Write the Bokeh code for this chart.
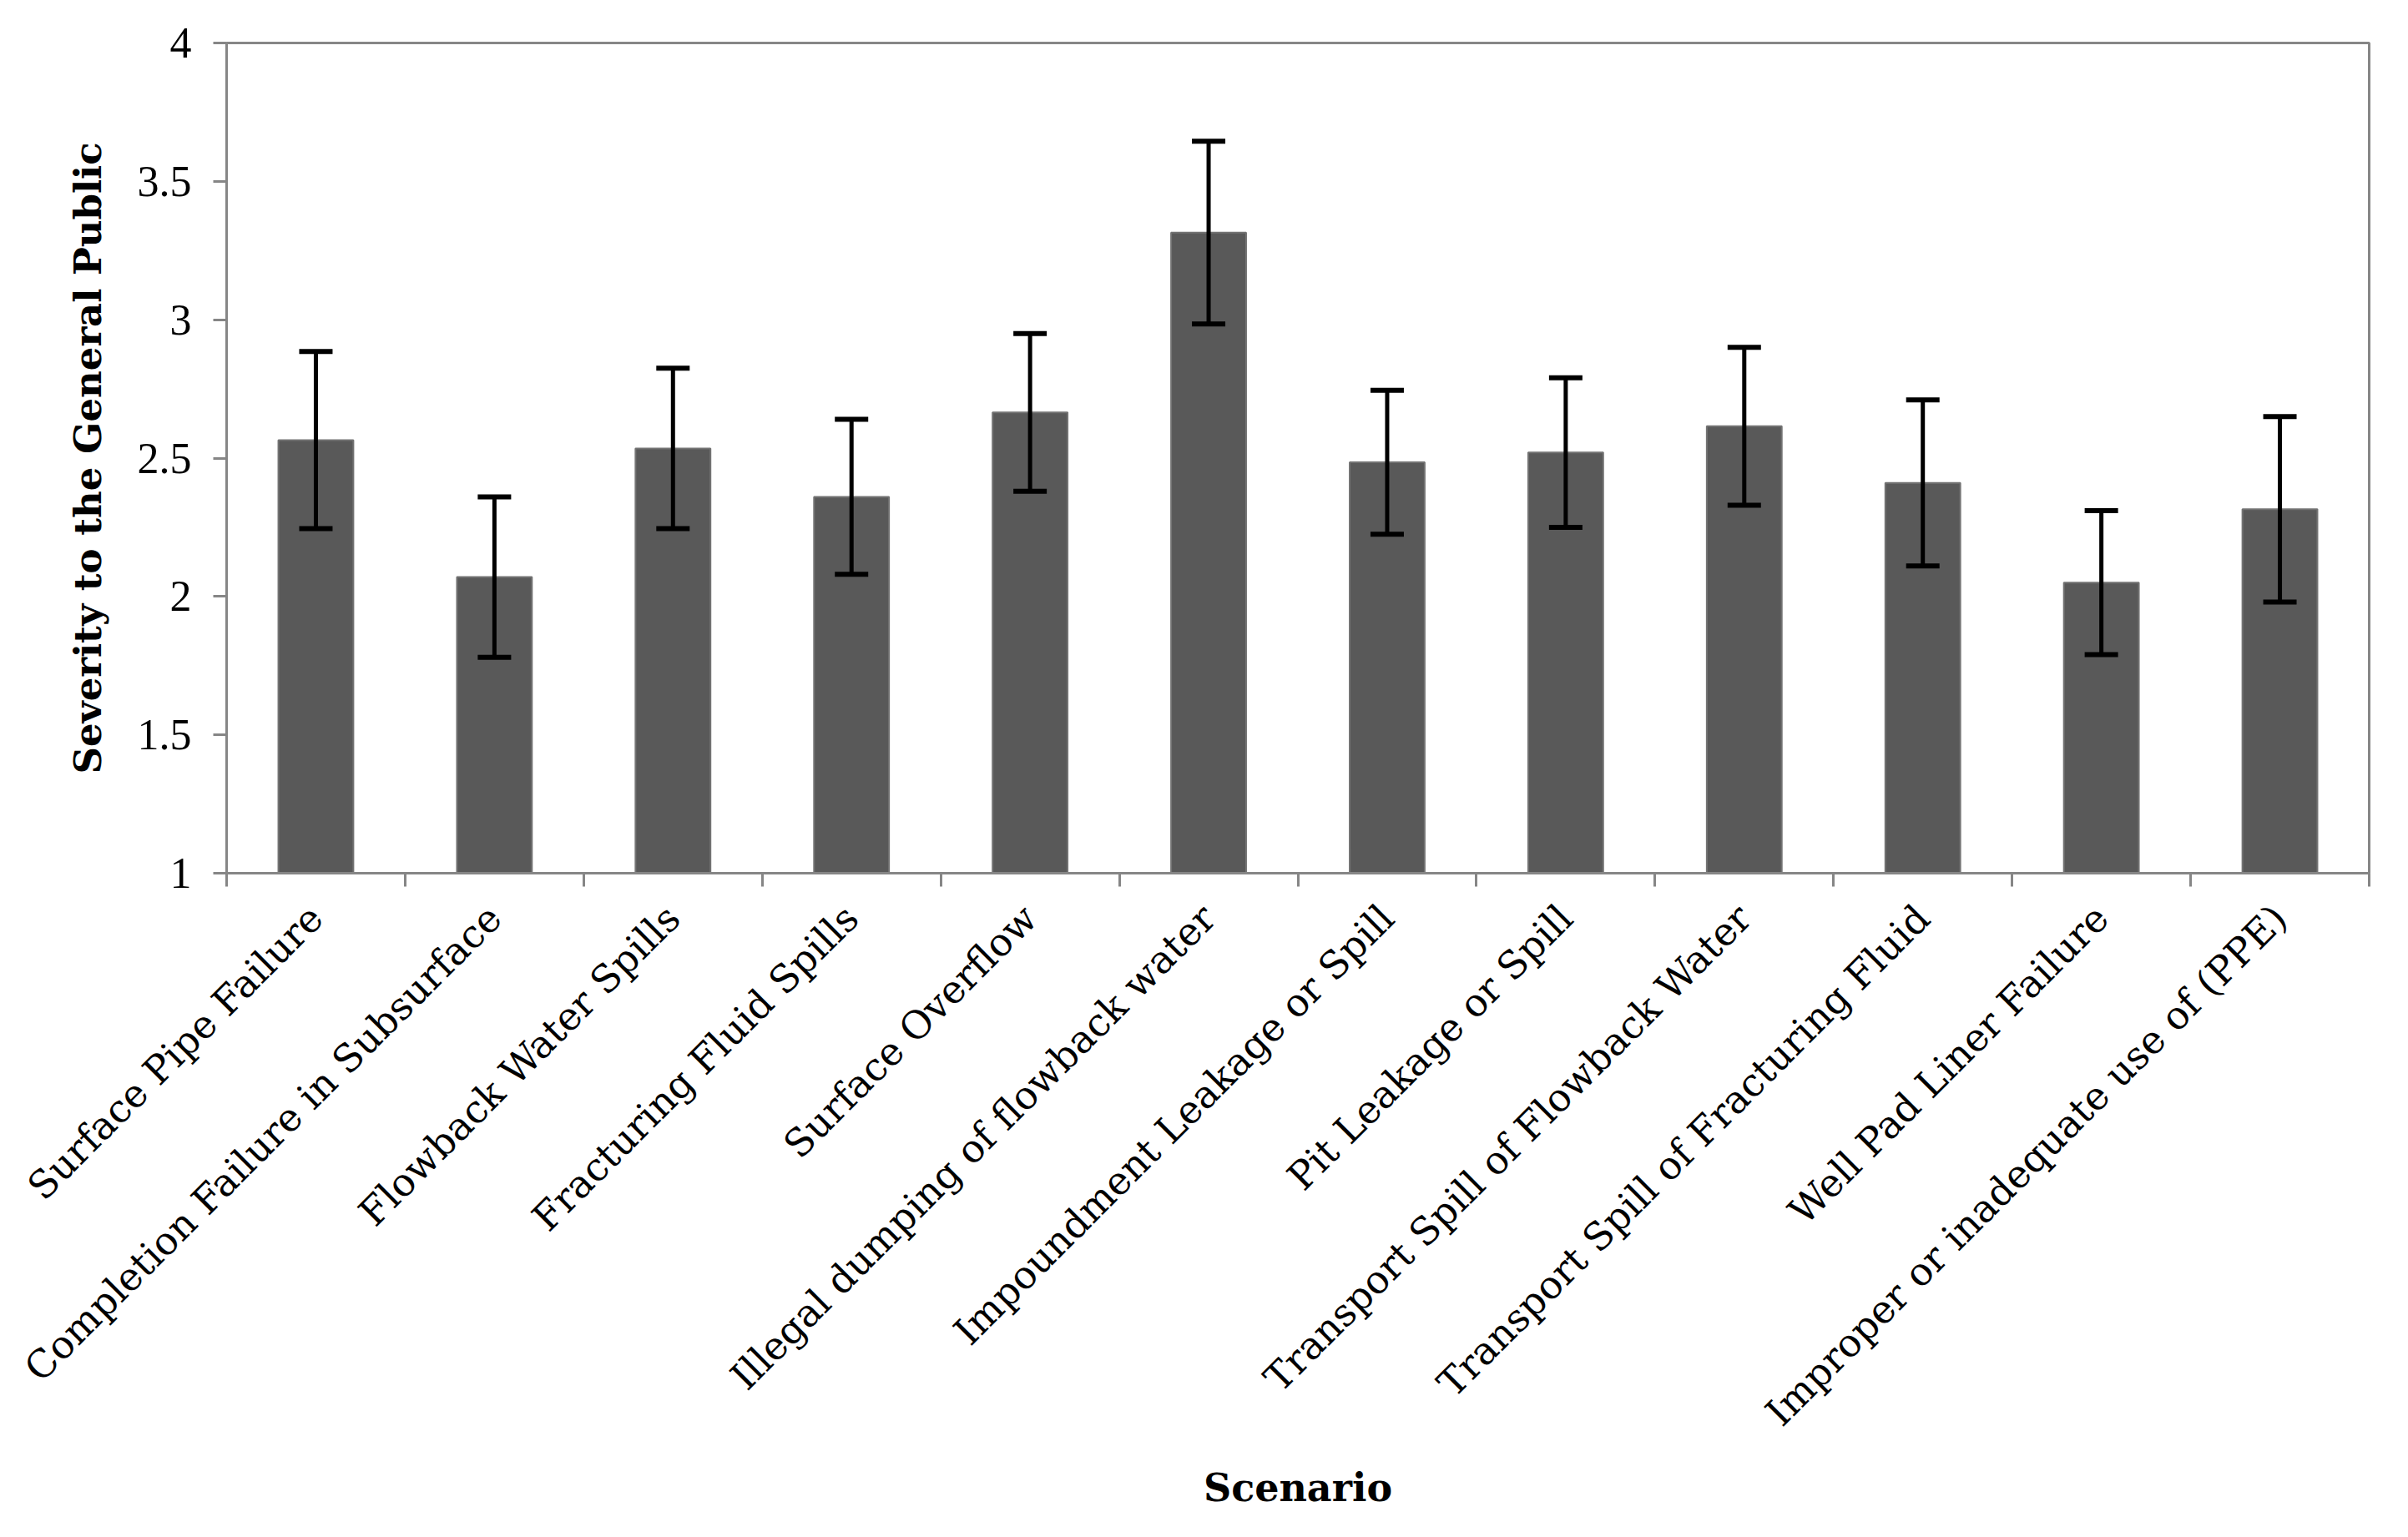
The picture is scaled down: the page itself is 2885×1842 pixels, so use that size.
from math import pi
from bokeh.plotting import figure
from bokeh.models import ColumnDataSource, Range1d, FixedTicker, Whisker, TeeHead
from bokeh.embed import file_html
from bokeh.resources import INLINE

scenarios = [
    "Surface Pipe Failure",
    "Completion Failure in Subsurface",
    "Flowback Water Spills",
    "Fracturing Fluid Spills",
    "Surface Overflow",
    "Illegal dumping of flowback water",
    "Impoundment Leakage or Spill",
    "Pit Leakage or Spill",
    "Transport Spill of Flowback Water",
    "Transport Spill of Fracturing Fluid",
    "Well Pad Liner Failure",
    "Improper or inadequate use of (PPE)",
]
means = [2.565, 2.07, 2.535, 2.36, 2.665, 3.315, 2.485, 2.52, 2.615, 2.41, 2.05, 2.315]
errors = [0.32, 0.29, 0.29, 0.28, 0.285, 0.33, 0.26, 0.27, 0.285, 0.30, 0.26, 0.335]
y_ticks = [1, 1.5, 2, 2.5, 3, 3.5, 4]
y_label = "Severity to the General Public"
x_label = "Scenario"

xs = [i + 0.5 for i in range(len(scenarios))]
src = ColumnDataSource(dict(
    x=xs,
    mean=means,
    upper=[m + e for m, e in zip(means, errors)],
    lower=[m - e for m, e in zip(means, errors)],
))

p = figure(width=2869, height=1826, output_backend="svg", toolbar_location=None,
           x_range=Range1d(0, len(scenarios)), y_range=Range1d(y_ticks[0], y_ticks[-1]),
           min_border_left=271, min_border_right=31, min_border_top=51, min_border_bottom=780)
p.xgrid.visible = False
p.ygrid.visible = False
p.outline_line_color = "#868686"
p.outline_line_width = 3
p.background_fill_color = "white"
p.border_fill_color = "white"

p.vbar(x="x", top="mean", bottom=y_ticks[0], width=0.42, source=src,
       fill_color="#595959", line_color="#737373", line_width=2)

wh = Whisker(source=src, base="x", upper="upper", lower="lower",
             line_color="black", line_width=5, level="overlay",
             upper_head=TeeHead(size=40, line_width=6, line_color="black"),
             lower_head=TeeHead(size=40, line_width=6, line_color="black"))
p.add_layout(wh)

# x axis
xa = p.xaxis[0]
xa.ticker = FixedTicker(ticks=xs, minor_ticks=list(range(len(scenarios) + 1)))
xa.major_label_overrides = {x: s for x, s in zip(xs, scenarios)}
xa.major_label_orientation = pi / 4
xa.major_tick_out = 0
xa.major_tick_in = 0
xa.minor_tick_out = 16
xa.minor_tick_in = 0
xa.minor_tick_line_color = "#868686"
xa.minor_tick_line_width = 3
xa.axis_line_color = "#868686"
xa.axis_line_width = 3
xa.major_label_text_font = "DejaVu Serif"
xa.major_label_text_font_size = "46px"
xa.major_label_text_color = "black"
xa.major_label_standoff = 30
xa.axis_label = x_label
xa.axis_label_text_font = "DejaVu Serif"
xa.axis_label_text_font_style = "bold"
xa.axis_label_text_font_size = "46px"
xa.axis_label_text_color = "black"
xa.axis_label_standoff = 15

# y axis
ya = p.yaxis[0]
ya.ticker = FixedTicker(ticks=y_ticks, minor_ticks=[])
ya.major_label_overrides = {t: ("%g" % t) for t in y_ticks}
ya.major_tick_out = 16
ya.major_tick_in = 0
ya.major_tick_line_color = "#868686"
ya.major_tick_line_width = 3
ya.axis_line_color = "#868686"
ya.axis_line_width = 3
ya.major_label_text_font = "Liberation Serif"
ya.major_label_text_font_size = "52px"
ya.major_label_text_color = "black"
ya.major_label_standoff = 26
ya.axis_label = y_label
ya.axis_label_text_font = "DejaVu Serif"
ya.axis_label_text_font_style = "bold"
ya.axis_label_text_font_size = "45px"
ya.axis_label_text_color = "black"
ya.axis_label_standoff = 30

open("out.html", "w").write(file_html(p, INLINE))
